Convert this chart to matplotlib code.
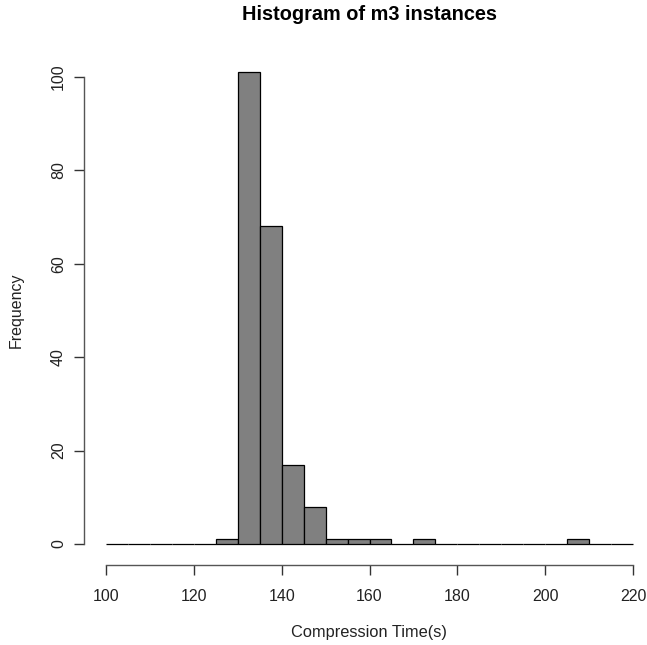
import numpy as np
import matplotlib
matplotlib.use("Agg")
import matplotlib.pyplot as plt

plt.rcParams['font.family'] = ['Liberation Sans', 'DejaVu Sans']

# histogram bins (width 5) and their counts
bin_edges = list(range(100, 225, 5))
counts = [0, 0, 0, 0, 0, 1, 101, 68, 17, 8, 1, 1, 1, 0, 1,
          0, 0, 0, 0, 0, 0, 1, 0, 0]
x_ticks = [100, 120, 140, 160, 180, 200, 220]
y_ticks = [0, 20, 40, 60, 80, 100]

W, H = 647, 645
fig = plt.figure(figsize=(W / 100, H / 100), dpi=100)

# pixel geometry
px_x100, px_x220 = 106, 633
px_y0, px_y100 = 544, 77
ax_left, ax_right = 84, 646
ax_bottom, ax_top = 565, 53

sx = (px_x220 - px_x100) / 120.0
sy = (px_y0 - px_y100) / 100.0
xlo = 100 - (px_x100 - ax_left) / sx
xhi = 220 + (ax_right - px_x220) / sx
ylo = 0 - (ax_bottom - px_y0) / sy
yhi = 100 + (px_y100 - ax_top) / sy

ax = fig.add_axes([ax_left / W, 1 - ax_bottom / H,
                   (ax_right - ax_left) / W, (ax_bottom - ax_top) / H])

edges = np.array(bin_edges)
ax.bar(edges[:-1], counts, width=np.diff(edges), align='edge',
       color='#808080', edgecolor='black', linewidth=0.9)

ax.set_xlim(xlo, xhi)
ax.set_ylim(ylo, yhi)

ax.spines['top'].set_visible(False)
ax.spines['right'].set_visible(False)
ax.spines['bottom'].set_bounds(100, 220)
ax.spines['left'].set_bounds(0, 100)
for s in ('bottom', 'left'):
    ax.spines[s].set_color('#555555')
    ax.spines[s].set_linewidth(1.0)

ax.set_xticks(x_ticks)
ax.set_yticks(y_ticks)
ax.set_yticklabels([str(v) for v in y_ticks], rotation=90, va='center')
ax.tick_params(axis='both', length=7, width=1, color='#333333',
               labelsize=11.5, labelcolor='#222222')
ax.tick_params(axis='x', pad=10)
ax.tick_params(axis='y', pad=6)

fig.text(369 / W, 1 - 15 / H, 'Histogram of m3 instances', ha='center',
         va='center', fontsize=14.3, fontweight='bold')
fig.text(369 / W, 1 - 633 / H, 'Compression Time(s)',
         ha='center', va='center', fontsize=11.8, color='#222222')
fig.text(16 / W, 1 - (px_y0 + px_y100) / 2 / H, 'Frequency', rotation=90,
         ha='center', va='center', fontsize=11.5, color='#222222')

fig.savefig('out.png', dpi=100)
